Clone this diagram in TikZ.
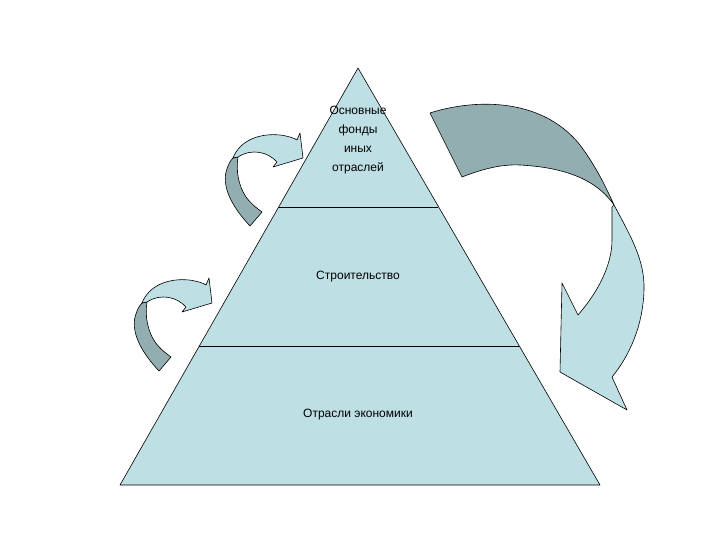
\documentclass[tikz,border=0pt]{standalone}
\usepackage{fontspec}
\setmainfont{Liberation Sans}
\definecolor{lb}{HTML}{BEDFE3}
\definecolor{gr}{HTML}{93AEB1}
\begin{document}
\begin{tikzpicture}[x=1pt,y=-1pt,line join=round,
  lbl/.style={font=\fontsize{12}{19}\selectfont,align=center,inner sep=0pt},
  ln/.style={draw=black,line width=0.6pt}]
\useasboundingbox (0,0) rectangle (720,540);
% pyramid
\filldraw[ln,fill=lb] (358,68) coordinate (apex) -- (600,485) coordinate (br) -- (120,485) coordinate (bl) -- cycle;
\draw[ln] (278,207) -- (438,207);
\draw[ln] (199,346) -- (519,346);
\node[lbl] (t1) at (358,140) {Основные\\фонды\\иных\\отраслей};
\node[lbl] (t2) at (358,277) {Строительство};
\node[lbl] (t3) at (358,415) {Отрасли экономики};
% right big arrow
\filldraw[ln,fill=gr] (430,113) .. controls (470,100) and (540,95) .. (580,145) .. controls (595,165) and (605,185) .. (614,205)
  .. controls (600,185) and (575,168) .. (520,165) .. controls (500,164) and (480,170) .. (462,177) -- cycle;
\filldraw[ln,fill=lb] (614,205) .. controls (630,235) and (645,260) .. (644,290) .. controls (643,325) and (630,355) .. (612,377)
  -- (627,410) -- (560,372) -- (562,283) -- (578,315) .. controls (598,292) and (612,265) .. (612,240) .. controls (612,228) and (612,215) .. (612,207) -- cycle;
% left arrows
\foreach \dx/\dy in {0/0,-91/145}{
\begin{scope}[shift={(\dx,\dy)}]
\filldraw[ln,fill=gr] (250,226) .. controls (235,210) and (222,190) .. (226,172) .. controls (228,165) and (230,161) .. (233,158)
  -- (238,157) .. controls (236,170) and (238,185) .. (246,197) .. controls (252,205) and (258,209) .. (262,212) -- cycle;
\filldraw[ln,fill=lb] (233,158) .. controls (240,140) and (260,133) .. (280,135) .. controls (288,136) and (294,138) .. (297,140)
  -- (300,133) -- (303,158) -- (273,167) -- (277,162) .. controls (268,152) and (252,148) .. (238,157) -- cycle;
\end{scope}}
\end{tikzpicture}
\end{document}
